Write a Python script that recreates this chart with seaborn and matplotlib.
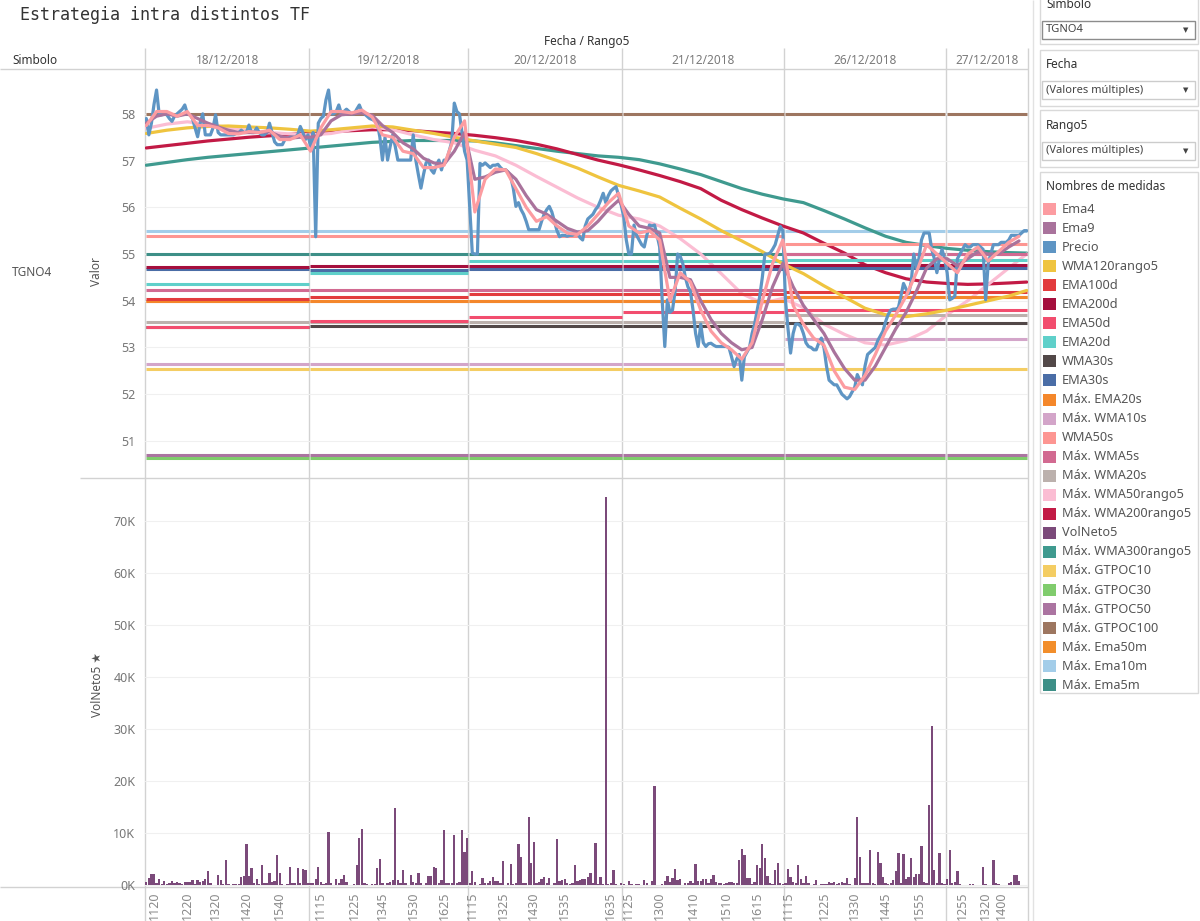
import matplotlib
matplotlib.use("Agg")
import matplotlib.pyplot as plt
from matplotlib.patches import Rectangle
import numpy as np
import pandas as pd
import seaborn as sns

sns.set_theme(style="white")
plt.rcParams["font.family"] = ["Noto Sans", "DejaVu Sans"]

# ---------------------------------------------------------------- datos
TITLE = "Estrategia intra distintos TF"
FECHAS = ["18/12/2018", "19/12/2018", "20/12/2018", "21/12/2018", "26/12/2018", "27/12/2018"]

# Precio por tramo de 5 minutos (Rango5), un bloque por fecha
PRECIO_18 = [57.9, 57.55, 57.8, 58.2, 58.51, 58.0, 57.98, 58.05, 57.98, 57.9,
             57.84, 57.95, 58.0, 58.05, 58.1, 58.19, 58.0, 57.98, 57.9, 57.7,
             57.51, 57.8, 58.0, 57.55, 57.55, 57.55, 57.7, 57.98, 57.6, 57.55,
             57.55, 57.55, 57.55, 57.55, 57.55, 57.58, 57.6, 57.65, 57.6, 57.6,
             57.76, 57.6, 57.6, 57.7, 57.6, 57.55, 57.55, 57.6, 57.8, 57.6,
             57.4, 57.34, 57.34, 57.34, 57.45, 57.48, 57.5, 57.5, 57.5, 57.55,
             57.73, 57.6, 57.45, 57.55]
PRECIO_19 = [57.3, 57.6, 55.37, 57.8, 57.9, 57.95, 58.3, 58.51, 58.0, 58.0,
             58.05, 58.19, 58.0, 58.05, 58.1, 58.05, 58.0, 58.0, 58.1, 58.19,
             58.05, 58.0, 57.95, 57.9, 57.88, 57.85, 57.8, 57.5, 57.01, 57.5,
             57.01, 57.3, 57.55, 57.3, 57.01, 57.01, 57.01, 57.01, 57.01, 57.01,
             57.55, 57.01, 56.7, 56.41, 56.7, 56.95, 57.01, 56.8, 56.73, 56.9,
             57.01, 56.8, 57.01, 57.01, 57.2, 57.4, 58.23, 58.05, 58.0, 57.6,
             57.2, 57.01]
PRECIO_20 = [56.02, 55.02, 55.0, 55.0, 56.94, 56.9, 56.95, 56.9, 56.85, 56.9,
             56.9, 56.92, 56.85, 56.8, 56.8, 56.75, 56.65, 56.4, 56.02, 56.1,
             55.95, 55.85, 55.7, 55.52, 55.52, 55.52, 55.52, 55.52, 55.7, 55.85,
             55.95, 56.02, 55.9, 55.7, 55.5, 55.37, 55.4, 55.4, 55.38, 55.4,
             55.4, 55.45, 55.45, 55.35, 55.3, 55.6, 55.75, 55.8, 55.85, 55.95,
             56.02, 56.15, 56.3, 56.1, 56.25, 56.35, 56.4, 56.44, 56.25, 56.05]
PRECIO_21 = [55.8, 55.3, 55.0, 55.0, 55.62, 55.4, 55.3, 55.2, 55.15, 55.4,
             55.62, 55.6, 55.62, 55.4, 55.15, 54.0, 53.02, 54.02, 53.75, 53.8,
             54.2, 55.0, 54.95, 54.8, 54.5, 54.3, 54.2, 53.8, 53.3, 53.02,
             53.5, 53.1, 53.02, 53.08, 53.09, 53.05, 53.02, 53.02, 53.02, 53.02,
             53.02, 53.0, 52.8, 52.59, 52.75, 52.85, 52.3, 52.8, 52.9, 53.0,
             53.3, 53.5, 53.8, 54.1, 54.5, 55.0, 55.0, 55.02, 55.1, 55.2,
             55.4, 55.59, 55.5]
PRECIO_26 = [54.02, 53.4, 52.88, 53.3, 53.5, 53.5, 53.45, 53.3, 53.1, 53.02,
             53.0, 52.95, 52.95, 53.1, 53.2, 53.0, 52.6, 52.3, 52.25, 52.2,
             52.2, 52.1, 52.0, 51.95, 51.9, 51.95, 52.05, 52.15, 52.42, 52.3,
             52.2, 52.6, 52.85, 52.9, 52.95, 53.0, 53.15, 53.25, 53.35, 53.55,
             53.7, 53.8, 53.82, 53.82, 53.85, 54.1, 54.37, 54.25, 54.15, 54.4,
             55.0, 54.7, 54.9, 55.3, 55.45, 55.45, 55.45, 55.1, 54.9, 54.6,
             54.9, 55.1, 54.9]
PRECIO_27 = [54.6, 54.02, 54.05, 54.1, 54.9, 55.0, 55.1, 55.2, 55.15, 55.15,
             55.2, 55.2, 55.2, 55.15, 55.1, 54.02, 54.8, 55.0, 55.2, 55.2,
             55.2, 55.25, 55.25, 55.25, 55.3, 55.4, 55.4, 55.4, 55.4, 55.45,
             55.5, 55.5]

# VolNeto5 en miles
VOL_18 = [0.6, 1.3, 2.1, 2.1, 0.4, 1.1, 0.2, 0.7, 0.2, 0.4,
          0.7, 0.3, 0.6, 0.4, 0.2, 0.6, 0.6, 0.6, 0.9, 0.2,
          1.0, 0.5, 0.8, 1.2, 2.6, 0.3, 0, 0, 1.9, 0.9,
          0.2, 4.8, 0.1, 0, 0.2, 0.2, 0.2, 1.6, 1.8, 7.9,
          1.7, 3.2, 0.3, 1.1, 0.2, 3.8, 0.3, 0.3, 2.3, 0.6,
          0.8, 5.8, 2.3, 0.2, 0, 0.2, 3.4, 0.3, 0.3, 3.3,
          0.3, 3.0, 2.8, 0.3]
VOL_19 = [0.3, 0.3, 1.1, 3.5, 0.5, 0.2, 0.3, 10.1, 0.3, 0,
          1.1, 0.3, 1.2, 1.9, 0.6, 0, 0, 0.2, 3.8, 9.0,
          10.7, 0.3, 0.1, 0, 0.1, 0.2, 3.2, 5.0, 0.3, 0,
          0.3, 0.6, 0.9, 14.8, 0.9, 0.3, 2.8, 0.3, 0, 1.9,
          0.6, 0.3, 2.4, 0.3, 0, 0.3, 1.7, 1.7, 3.5, 3.3,
          0.3, 1.0, 10.5, 0.3, 0.3, 0.4, 9.7, 0.4, 0.6, 10.5,
          6.4, 9.0]
VOL_20 = [0.3, 2.6, 0.6, 0, 0.2, 1.3, 0.3, 0.3, 0.8, 1.6,
          0.7, 0.7, 0.3, 4.6, 0, 0.3, 4.1, 0.2, 0.3, 7.9,
          5.4, 0.3, 0.4, 13.1, 4.3, 8.2, 0.3, 0.6, 1.1, 1.6,
          0.4, 1.3, 0, 0.3, 8.8, 0.7, 0.9, 1.1, 0.4, 0.2,
          0.3, 3.8, 0.8, 0.9, 1.1, 1.1, 1.5, 2.4, 0.4, 8.0,
          0.2, 1.5, 0.2, 74.6, 0.2, 0.3, 2.8, 0.2, 0, 0.3]
VOL_21 = [0.2, 0, 0.8, 0.2, 0, 0.2, 0.1, 0, 1.0, 0.4,
          0, 0.8, 19.0, 0, 0, 0.2, 0.8, 1.7, 0.5, 1.3,
          3.0, 1.0, 1.2, 0, 0.3, 0.3, 0.8, 0.3, 4.1, 0.8,
          0.8, 1.2, 1.2, 0.3, 1.2, 1.9, 0.6, 0.4, 0.3, 0.2,
          0.4, 0.6, 0.6, 0.3, 0.4, 4.8, 6.9, 5.7, 1.3, 1.3,
          0.2, 0.6, 3.8, 3.3, 7.9, 5.1, 1.8, 0.3, 0.2, 2.9,
          4.2, 0.3, 0.2]
VOL_26 = [0.3, 3.0, 1.5, 0.6, 0.3, 3.8, 1.1, 0.3, 1.7, 0.3,
          0, 0.2, 1.0, 0, 0.2, 0.2, 0.2, 0.6, 0.3, 0.6,
          0.2, 0.3, 0.6, 0.3, 1.3, 0.2, 0, 1.3, 13.1, 5.3,
          0.3, 0.3, 0.4, 6.7, 0.3, 0.2, 6.4, 4.3, 1.5, 0.3,
          0.2, 0.4, 1.0, 2.6, 6.1, 0.3, 5.9, 1.1, 1.6, 5.1,
          1.6, 2.2, 2.2, 7.5, 0.6, 0.3, 15.4, 30.6, 2.9, 0.3,
          6.1, 0.3, 0.2]
VOL_27 = [1.1, 6.8, 0.3, 0.6, 2.7, 0.2, 0, 0, 0, 0.2,
          0.2, 0, 0, 0, 3.5, 0.2, 0, 0, 4.8, 0.3,
          0.2, 0, 0, 0, 0.3, 0.6, 1.9, 1.9, 0.8, 0,
          0, 0]

# Ema4 / Ema9, leidas cada 4 tramos
EMA4 = [57.75, 58.05, 58.05, 57.95, 58.05, 57.75, 57.75, 57.7, 57.58, 57.57,
        57.62, 57.6, 57.65, 57.45, 57.45, 57.55, 57.2, 57.7, 58.05, 58.05,
        58.02, 58.08, 57.93, 57.55, 57.5, 57.2, 57.15, 56.85, 56.85, 56.9,
        57.5, 57.85, 55.9, 56.6, 56.82, 56.8, 56.4, 56.0, 55.7, 55.8,
        55.6, 55.45, 55.42, 55.6, 55.85, 56.1, 56.3, 55.6, 55.45, 55.5,
        55.3, 54.0, 54.6, 54.4, 53.8, 53.35, 53.1, 52.95, 52.75, 53.1,
        54.0, 54.8, 55.3, 53.9, 53.5, 53.2, 53.05, 52.5, 52.15, 52.1,
        52.4, 52.85, 53.35, 53.7, 54.1, 54.6, 55.2, 55.0, 54.8, 54.6,
        55.0, 55.15, 54.85, 55.05, 55.25, 55.38]
EMA9 = [57.8, 57.95, 58.0, 57.95, 58.0, 57.9, 57.8, 57.72, 57.65, 57.6,
        57.6, 57.6, 57.62, 57.52, 57.48, 57.5, 57.5, 57.55, 57.85, 57.98,
        58.0, 58.02, 57.97, 57.75, 57.6, 57.38, 57.25, 57.05, 56.95, 56.92,
        57.2, 57.6, 56.6, 56.65, 56.75, 56.8, 56.6, 56.25, 55.95, 55.85,
        55.7, 55.55, 55.47, 55.5, 55.7, 55.95, 56.15, 55.85, 55.6, 55.55,
        55.45, 54.5, 54.5, 54.45, 54.0, 53.6, 53.3, 53.1, 52.95, 53.0,
        53.6, 54.3, 54.8, 54.3, 53.9, 53.6, 53.3, 52.9, 52.55, 52.3,
        52.3, 52.6, 53.0, 53.4, 53.75, 54.2, 54.7, 54.9, 54.9, 54.75,
        54.9, 55.05, 55.0, 55.0, 55.15, 55.28]

# medias lentas, leidas cada 8 tramos (+ el ultimo)
WMA120_R5 = [57.58, 57.65, 57.7, 57.73, 57.74, 57.72, 57.7, 57.67, 57.63, 57.66,
             57.7, 57.74, 57.72, 57.65, 57.58, 57.5, 57.42, 57.35, 57.28, 57.15,
             57.0, 56.84, 56.65, 56.47, 56.35, 56.22, 55.98, 55.75, 55.5, 55.28,
             55.05, 54.79, 54.58, 54.32, 54.08, 53.84, 53.7, 53.66, 53.72, 53.8,
             53.9, 54.0, 54.1, 54.22]
WMA50_R5 = [57.69, 57.78, 57.83, 57.78, 57.7, 57.64, 57.6, 57.57, 57.55, 57.58,
            57.66, 57.72, 57.66, 57.55, 57.45, 57.38, 57.22, 57.1, 56.9, 56.66,
            56.43, 56.2, 56.0, 55.83, 55.75, 55.6, 55.33, 55.0, 54.58, 54.15,
            53.95, 54.05, 53.85, 53.5, 53.28, 53.1, 53.05, 53.15, 53.35, 53.7,
            54.0, 54.35, 54.7, 55.0]
WMA200_R5 = [57.27, 57.32, 57.37, 57.42, 57.46, 57.5, 57.53, 57.56, 57.59, 57.62,
             57.64, 57.66, 57.66, 57.64, 57.61, 57.58, 57.54, 57.49, 57.43, 57.35,
             57.25, 57.13, 57.01, 56.91, 56.8, 56.68, 56.55, 56.4, 56.15, 55.95,
             55.77, 55.6, 55.45, 55.23, 55.02, 54.77, 54.6, 54.47, 54.4, 54.37,
             54.35, 54.36, 54.38, 54.4]
WMA300_R5 = [56.9, 56.96, 57.02, 57.07, 57.11, 57.15, 57.19, 57.23, 57.27, 57.31,
             57.35, 57.39, 57.41, 57.43, 57.43, 57.43, 57.42, 57.38, 57.32, 57.26,
             57.2, 57.15, 57.1, 57.07, 57.02, 56.93, 56.82, 56.7, 56.55, 56.4,
             56.28, 56.18, 56.1, 55.93, 55.75, 55.56, 55.38, 55.25, 55.18, 55.12,
             55.08, 55.05, 55.03, 55.02]

# niveles diarios (un valor por fecha)
NIVELES = {
    "EMA100d":        [54.03, 54.09, 54.15, 54.15, 54.18, 54.18],
    "EMA200d":        [54.73, 54.75, 54.75, 54.75, 54.77, 54.77],
    "EMA50d":         [53.43, 53.56, 53.66, 53.75, 53.8, 53.8],
    "EMA20d":         [54.35, 54.6, 54.84, 54.84, 54.87, 54.87],
    "WMA30s":         [53.43, 53.45, 53.45, 53.45, 53.53, 53.53],
    "EMA30s":         [54.67, 54.66, 54.67, 54.67, 54.7, 54.7],
    "Máx. EMA20s":    [53.99, 53.99, 54.0, 54.0, 54.09, 54.09],
    "Máx. WMA10s":    [52.65, 52.65, 52.65, 52.65, 53.18, 53.18],
    "WMA50s":         [55.39, 55.39, 55.39, 55.39, 55.21, 55.21],
    "Máx. WMA5s":     [54.23, 54.23, 54.23, 54.22, 55.0, 55.0],
    "Máx. WMA20s":    [53.55, 53.55, 53.55, 53.55, 53.69, 53.69],
    "Máx. GTPOC10":   [52.53, 52.53, 52.53, 52.53, 52.53, 52.53],
    "Máx. GTPOC30":   [50.63, 50.63, 50.63, 50.63, 50.63, 50.63],
    "Máx. GTPOC50":   [50.69, 50.69, 50.69, 50.69, 50.69, 50.69],
    "Máx. GTPOC100":  [58.0, 58.0, 58.0, 58.0, 58.0, 58.0],
    "Máx. Ema50m":    [53.99, 53.99, 54.0, 54.0, 54.09, 54.09],
    "Máx. Ema10m":    [55.5, 55.5, 55.5, 55.5, 55.5, 55.5],
    "Máx. Ema5m":     [55.0, 55.0, 55.0, 55.0, 55.0, 55.0],
}

MEDIDAS = ["Ema4", "Ema9", "Precio", "WMA120rango5", "EMA100d", "EMA200d", "EMA50d",
           "EMA20d", "WMA30s", "EMA30s", "Máx. EMA20s", "Máx. WMA10s", "WMA50s",
           "Máx. WMA5s", "Máx. WMA20s", "Máx. WMA50rango5", "Máx. WMA200rango5",
           "VolNeto5", "Máx. WMA300rango5", "Máx. GTPOC10", "Máx. GTPOC30",
           "Máx. GTPOC50", "Máx. GTPOC100", "Máx. Ema50m", "Máx. Ema10m", "Máx. Ema5m"]
COLORES = ["#fc9ca1", "#a9739c", "#5e95c4", "#efc43f", "#e23b3d", "#a50f3d", "#f24d6e",
           "#5fd0ca", "#524848", "#4a6da6", "#f4872b", "#d3a5c9", "#fd9692",
           "#d26a91", "#bcb1ad", "#fbbdd3", "#c21a45",
           "#7b4a7a", "#3f9a8f", "#f4cd63", "#80cc6d",
           "#ab74a1", "#9d7660", "#f28e2b", "#a3cde9", "#3d8f87"]

TICKS = {
    "18/12/2018": ["1120", "1220", "1320", "1420", "1540"],
    "19/12/2018": ["1115", "1225", "1345", "1530", "1625"],
    "20/12/2018": ["1115", "1325", "1430", "1535", "1635"],
    "21/12/2018": ["1125", "1300", "1410", "1510", "1615"],
    "26/12/2018": ["1115", "1225", "1330", "1445", "1555"],
    "27/12/2018": ["1255", "1320", "1400"],
}
# tramo (dentro de cada fecha) donde Tableau pone cada etiqueta
TICK_SLOT = {
    "18/12/2018": [3, 16, 27, 39, 52],
    "19/12/2018": [4, 17, 28, 40, 52],
    "20/12/2018": [1, 13, 25, 37, 55],
    "21/12/2018": [2, 14, 27, 40, 52],
    "26/12/2018": [1, 15, 27, 39, 52],
    "27/12/2018": [6, 15, 21],
}

# ---------------------------------------------------------------- tabla
precios = [PRECIO_18, PRECIO_19, PRECIO_20, PRECIO_21, PRECIO_26, PRECIO_27]
vols = [VOL_18, VOL_19, VOL_20, VOL_21, VOL_26, VOL_27]
sizes = [len(p) for p in precios]
starts = np.concatenate([[0], np.cumsum(sizes)[:-1]])
n = sum(sizes)

df = pd.DataFrame({
    "fecha": np.repeat(FECHAS, sizes),
    "slot": np.arange(n),
    "precio": np.concatenate(precios),
    "vol": np.concatenate(vols),
})
ema_slot = np.arange(0, n, 4)[:len(EMA4)]
ma_slot = np.append(np.arange(0, n, 8), n - 1)
curvas = {"Máx. WMA50rango5": WMA50_R5, "WMA120rango5": WMA120_R5,
          "Máx. WMA200rango5": WMA200_R5, "Máx. WMA300rango5": WMA300_R5}
color_de = dict(zip(MEDIDAS, COLORES))

# ---------------------------------------------------------------- figura
W, H = 1200, 921
fig = plt.figure(figsize=(12, 9.21), dpi=100)
fig.patch.set_facecolor("white")
bg = fig.add_axes([0, 0, 1, 1])
bg.set_xlim(0, W)
bg.set_ylim(H, 0)
bg.axis("off")
bg.set_zorder(0)


def px_axes(x0, y0, x1, y1):
    a = fig.add_axes([x0 / W, 1 - y1 / H, (x1 - x0) / W, (y1 - y0) / H])
    a.set_facecolor("none")
    a.set_zorder(1)
    for s in a.spines.values():
        s.set_visible(False)
    return a


PL, PR = 145, 1028
slot_w = (PR - PL) / n
ax = px_axes(PL, 69, PR, 478)
axv = px_axes(PL, 478, PR, 887)
GRID = "#d2d2d2"

# marco tipo Tableau
bg.hlines(69, 0, PR, color=GRID, lw=1)
bg.hlines(478, 80, PR, color=GRID, lw=1)
bg.hlines(887, 0, PR, color=GRID, lw=1)
for xb in [PL, PR] + [PL + s * slot_w for s in starts[1:]]:
    bg.vlines(xb, 48, H, color=GRID, lw=1)
bg.vlines(1033, 0, H, color="#e2e2e2", lw=1)

bg.text(20, 15, TITLE, family=["DejaVu Sans Mono"], fontsize=12,
        color="#333333", va="center")
bg.text((PL + PR) / 2, 41, "Fecha / Rango5", fontsize=8.5, color="#333333",
        ha="center", va="center")
bg.text(12, 60, "Simbolo", fontsize=8.5, color="#333333", va="center")
for f, s0, sz in zip(FECHAS, starts, sizes):
    bg.text(PL + (s0 + sz / 2) * slot_w, 60, f, fontsize=8.5, color="#7a7a7a",
            ha="center", va="center")
bg.text(12, 272, "TGNO4", fontsize=8.5, color="#555555", va="center")
bg.text(97, 272, "Valor", fontsize=8.5, color="#555555", rotation=90,
        ha="center", va="center", weight="bold")
bg.text(97, 685, "VolNeto5 ★", fontsize=8.5, color="#555555", rotation=90,
        ha="center", va="center", weight="bold", family=["Noto Sans", "DejaVu Sans"])

# ---------------------------------------------------------------- panel superior
ax.set_xlim(-0.5, n - 0.5)
ax.set_ylim(50.206, 58.96)
ax.set_yticks(range(51, 59))
ax.set_xticks([])
ax.grid(axis="y", color="#f0f0f0", lw=0.8)
ax.tick_params(axis="y", length=0, pad=7, labelsize=9, labelcolor="#777777")

nm = len(MEDIDAS)
for i in range(nm - 1, -1, -1):
    name = MEDIDAS[i]
    c = color_de[name]
    z = 3 + (nm - i)
    if name in NIVELES:
        for s0, sz, v in zip(starts, sizes, NIVELES[name]):
            ax.hlines(v, s0 - 0.25, s0 + sz - 0.75, colors=c, lw=2.2, zorder=z)
    elif name in curvas:
        sns.lineplot(x=ma_slot, y=curvas[name], ax=ax, color=c, linewidth=2.3,
                     sort=False, estimator=None, zorder=z)
    elif name == "Precio":
        sns.lineplot(data=df, x="slot", y="precio", ax=ax, color=c, linewidth=2.3,
                     sort=False, estimator=None, zorder=z)
    elif name in ("Ema4", "Ema9"):
        vals = EMA4 if name == "Ema4" else EMA9
        sns.lineplot(x=ema_slot, y=vals, ax=ax, color=c, linewidth=2.3,
                     sort=False, estimator=None, zorder=z)
ax.set_xlabel("")
ax.set_ylabel("")

# ---------------------------------------------------------------- panel inferior
sns.barplot(data=df, x="slot", y="vol", ax=axv, color=color_de["VolNeto5"],
            saturation=1, width=0.9, errorbar=None, linewidth=0, zorder=3)
axv.set_xlim(-0.5, n - 0.5)
axv.set_ylim(-0.385, 78.27)
axv.set_yticks(range(0, 80, 10))
axv.set_yticklabels([f"{v}K" for v in range(0, 80, 10)])
axv.grid(axis="y", color="#f0f0f0", lw=0.8)
axv.grid(axis="x", visible=False)
axv.tick_params(axis="y", length=0, pad=7, labelsize=9, labelcolor="#777777")
tick_pos, tick_lab = [], []
for f, s0 in zip(FECHAS, starts):
    tick_pos += [s0 + k for k in TICK_SLOT[f]]
    tick_lab += TICKS[f]
axv.set_xticks(tick_pos)
axv.set_xticklabels(tick_lab, rotation=90, fontsize=9, color="#8a8a8a")
axv.tick_params(axis="x", length=0, pad=3)
axv.set_xlabel("")
axv.set_ylabel("")

# ---------------------------------------------------------------- filtros y leyenda
CARD = "#d9d9d9"


def card(y0, y1):
    bg.add_patch(Rectangle((1040, y0), 158, y1 - y0, fill=False, ec=CARD, lw=1))


def dropdown(y0, texto, ec):
    bg.add_patch(Rectangle((1042, y0), 153, 18, fc="white", ec=ec, lw=1))
    bg.text(1046, y0 + 9, texto, fontsize=8, color="#444444", va="center")
    bg.text(1186, y0 + 9, "▼", fontsize=5, color="#444444", va="center", ha="center",
            family=["DejaVu Sans"])


card(-2, 44)
bg.text(1046, 5, "Simbolo", fontsize=8.5, color="#333333", va="center")
dropdown(21, "TGNO4", "#8c8c8c")
card(50, 106)
bg.text(1046, 65, "Fecha", fontsize=8.5, color="#333333", va="center")
dropdown(81, "(Valores múltiples)", "#cccccc")
card(110, 167)
bg.text(1046, 126, "Rango5", fontsize=8.5, color="#333333", va="center")
dropdown(142, "(Valores múltiples)", "#cccccc")
card(172, 693)
bg.text(1046, 187, "Nombres de medidas", fontsize=8.5, color="#333333", va="center")
for i, (name, c) in enumerate(zip(MEDIDAS, COLORES)):
    y = 209 + i * 19.05
    bg.add_patch(Rectangle((1043, y - 6), 13, 12, fc=c, ec="none"))
    bg.text(1062, y, name, fontsize=9.2, color="#555555", va="center")

fig.savefig("out.png", dpi=100, facecolor="white")
